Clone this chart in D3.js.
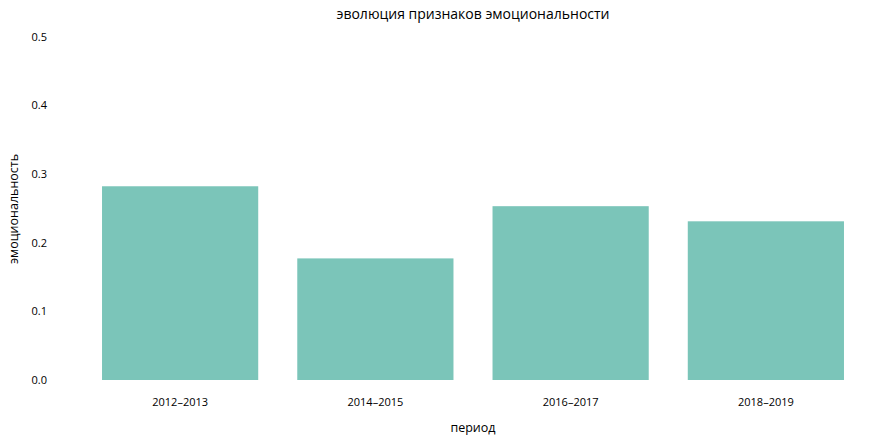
<!DOCTYPE html>
<html><head><meta charset="utf-8">
<script src="https://cdn.jsdelivr.net/npm/d3@7"></script>
<style>body{margin:0;background:#fff}text{font-family:"Open Sans","DejaVu Sans",sans-serif;fill:#000}</style>
</head><body><svg id="c" width="888" height="448"></svg>
<script>
const categories = ["2012–2013","2014–2015","2016–2017","2018–2019"];
const values = [0.282, 0.177, 0.253, 0.231];
const yTicks = [0, 0.1, 0.2, 0.3, 0.4, 0.5];
const title = "эволюция признаков эмоциональности";
const xTitle = "период";
const yTitle = "эмоциональность";

const svg = d3.select("#c");
const x = d3.scaleBand().domain(categories).range([82.5, 863.5]).paddingInner(0.2).paddingOuter(0.1);
const y = d3.scaleLinear().domain([0, 0.5]).range([380, 36.5]);

svg.selectAll("rect.bar").data(values).enter().append("rect")
  .attr("class","bar")
  .attr("x",(d,i)=>x(categories[i]))
  .attr("y",d=>y(d))
  .attr("width",x.bandwidth())
  .attr("height",d=>y(0)-y(d))
  .attr("fill","#7bc5b9");

const ya = svg.append("g").attr("transform","translate(47,0)")
  .call(d3.axisLeft(y).tickValues(yTicks).tickFormat(d3.format(".1f")).tickSize(0).tickPadding(0));
ya.select(".domain").remove();
ya.selectAll("text").style("font-size","11px").style("font-weight","500");

const xa = svg.append("g").attr("transform","translate(0,398)")
  .call(d3.axisBottom(x).tickSize(0).tickPadding(0));
xa.select(".domain").remove();
xa.selectAll("text").style("font-size","11px").style("font-weight","500");

svg.append("text").attr("x",473).attr("y",19).attr("text-anchor","middle").style("font-size","14px").style("font-weight","500").text(title);
svg.append("text").attr("x",473).attr("y",432).attr("text-anchor","middle").style("font-size","12.5px").style("font-weight","500").text(xTitle);
svg.append("text").attr("transform","translate(18,209) rotate(-90)").attr("text-anchor","middle").style("font-size","12.5px").style("font-weight","500").text(yTitle);
</script></body></html>
